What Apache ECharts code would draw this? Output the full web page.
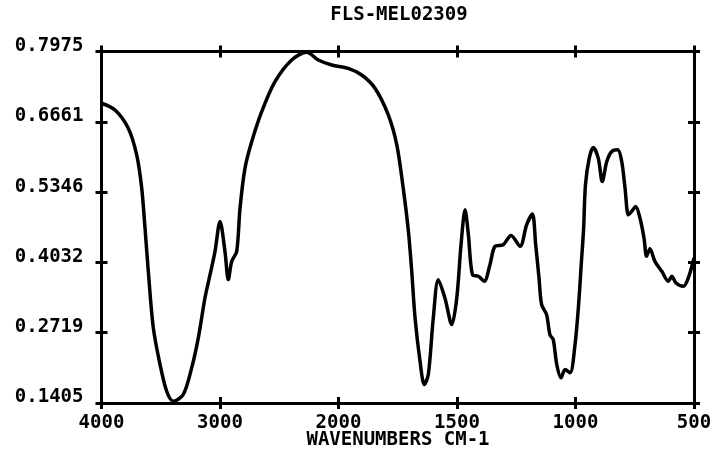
<!DOCTYPE html>
<html><head><meta charset="utf-8">
<script src="https://cdn.jsdelivr.net/npm/echarts@6/dist/echarts.min.js"></script>
<style>html,body{margin:0;padding:0;background:#fff}#c{width:713px;height:449px}</style>
</head><body><div id="c"></div>
<script>
const titleText = 'FLS-MEL02309';
const xAxisTitle = 'WAVENUMBERS CM-1';
const xTickValues = [4000, 3000, 2000, 1500, 1000, 500];
const xTickLabels = ['4000', '3000', '2000', '1500', '1000', '500'];
const yTickValues = [0.1405, 0.2719, 0.4032, 0.5346, 0.6661, 0.7975];
const yTickLabels = ['0.1405', '0.2719', '0.4032', '0.5346', '0.6661', '0.7975'];

const wavenumbers = [4000,3886,3774,3703,3661,3633,3605,3563,3506,3450,3394,3310,3239,3183,3127,3084,3042,3000,2958,2930,2901,2859,2831,2789,2732,2648,2536,2395,2268,2171,2057,1959,1902,1846,1790,1754,1727,1705,1691,1677,1656,1638,1621,1600,1579,1551,1522,1501,1483,1466,1452,1435,1410,1385,1361,1340,1305,1272,1234,1206,1182,1168,1154,1143,1122,1108,1094,1079,1061,1044,1023,1002,987,975,966,958,942,925,904,887,868,847,822,805,791,777,763,746,728,711,700,686,665,636,608,594,576,545,524,500];
const absorbance = [0.7008,0.6883,0.6542,0.6043,0.5427,0.4681,0.3865,0.2814,0.2124,0.1625,0.1439,0.1564,0.2062,0.2622,0.3368,0.3803,0.4238,0.4798,0.4238,0.3710,0.4052,0.4238,0.5048,0.5795,0.6291,0.6851,0.7411,0.7816,0.7960,0.7816,0.7723,0.7661,0.7536,0.7288,0.6790,0.6230,0.5422,0.4612,0.3865,0.2995,0.2185,0.1750,0.1937,0.2995,0.3710,0.3368,0.2870,0.3368,0.4363,0.5017,0.4550,0.3803,0.3772,0.3678,0.3990,0.4332,0.4363,0.4537,0.4332,0.4737,0.4936,0.4363,0.3742,0.3243,0.3057,0.2683,0.2590,0.2124,0.1875,0.2030,0.1969,0.2497,0.3243,0.4046,0.4643,0.5483,0.5982,0.6179,0.5982,0.5545,0.5918,0.6105,0.6136,0.5918,0.5422,0.4923,0.4985,0.5078,0.4862,0.4488,0.4145,0.4289,0.4052,0.3865,0.3678,0.3772,0.3648,0.3585,0.3742,0.4115];

// piecewise-linear axis units between labelled ticks (chart has a scale change at 2000)
function toUnits(v, ticks) {
  for (let i = 0; i < ticks.length - 1; i++) {
    const a = ticks[i], b = ticks[i + 1];
    const lo = Math.min(a, b), hi = Math.max(a, b);
    if ((v >= lo && v <= hi) || i === ticks.length - 2) return i + (v - a) / (b - a);
  }
  return 0;
}
const data = wavenumbers.map((w, i) => [toUnits(w, xTickValues), toUnits(absorbance[i], yTickValues)]);

const FONT = 'DejaVu Sans Mono';
const lbl = { fontFamily: FONT, fontWeight: 'bold', fontSize: 19, color: '#000' };
const line = { color: '#000', width: 3 };
const tick = { color: '#000', width: 3 };

function xAx(grid, pos, inside, labels) {
  return {
    type: 'value', gridIndex: grid, position: pos, min: 0, max: 5, interval: 1,
    axisLine: { show: !inside, onZero: false, lineStyle: line },
    axisTick: { show: true, inside: inside, length: 6, lineStyle: tick },
    axisLabel: labels ? Object.assign({ show: true, margin: 11, formatter: v => xTickLabels[Math.round(v)] }, lbl) : { show: false },
    splitLine: { show: false }
  };
}
function yAx(grid, pos, inside, labels) {
  return {
    type: 'value', gridIndex: grid, position: pos, min: 0, max: 5, interval: 1,
    axisLine: { show: !inside, onZero: false, lineStyle: line },
    axisTick: { show: true, inside: inside, length: 6, lineStyle: tick },
    axisLabel: labels ? Object.assign({ show: true, margin: 18, verticalAlign: 'bottom', lineHeight: 11, formatter: v => yTickLabels[Math.round(v)] }, lbl) : { show: false },
    splitLine: { show: false }
  };
}

const chart = echarts.init(document.getElementById('c'), null, { renderer: 'canvas' });
const gridBox = { left: 101.5, right: 19, top: 51.5, bottom: 46, containLabel: false, outerBoundsMode: 'none' };
chart.setOption({
  animation: false,
  backgroundColor: '#fff',
  title: [
    { text: titleText, left: 394, top: 1, textAlign: 'center', textStyle: Object.assign({}, lbl) },
    { text: xAxisTitle, left: 393, top: 426, textAlign: 'center', textStyle: Object.assign({}, lbl) }
  ],
  grid: [Object.assign({}, gridBox), Object.assign({}, gridBox)],
  xAxis: [xAx(0, 'bottom', false, true), xAx(0, 'top', false, false), xAx(1, 'bottom', true, false), xAx(1, 'top', true, false)],
  yAxis: [yAx(0, 'left', false, true), yAx(0, 'right', false, false), yAx(1, 'left', true, false), yAx(1, 'right', true, false)],
  series: [{
    type: 'line', xAxisIndex: 0, yAxisIndex: 0, data: data,
    showSymbol: false, smooth: 0.3, lineStyle: { color: '#000', width: 3.5 }
  }]
});
</script></body></html>
